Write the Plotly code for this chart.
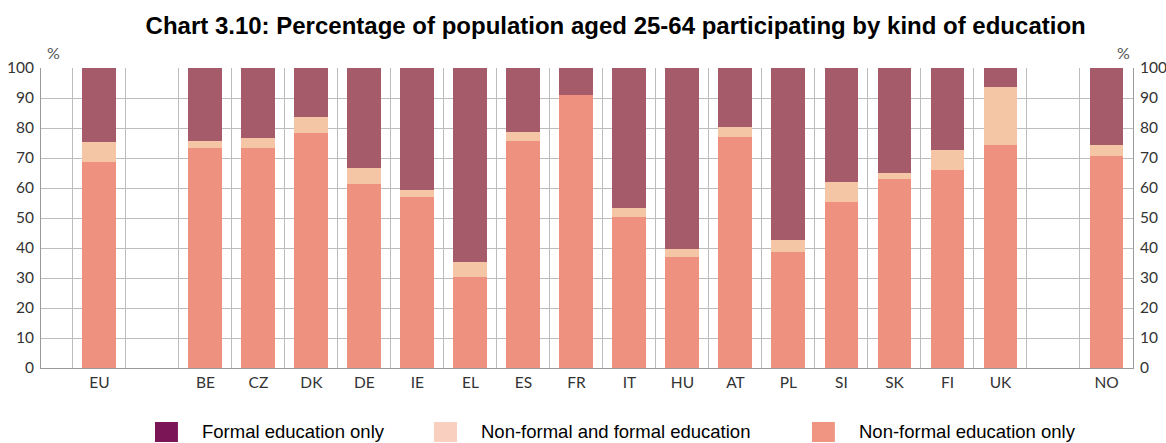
import plotly.graph_objects as go

# Categorias (los huecos son espacios para separar EU y NO)
countries = ["EU", " ", "BE", "CZ", "DK", "DE", "IE", "EL", "ES", "FR", "IT",
             "HU", "AT", "PL", "SI", "SK", "FI", "UK", "  ", "NO"]

# Valores (%)
non_formal_only = [68.8, None, 73.5, 73.3, 78.3, 61.4, 56.9, 30.3, 75.6, 90.9, 50.2,
                   37.0, 77.0, 38.6, 55.4, 62.9, 65.9, 74.3, None, 70.6]
non_formal_and_formal = [6.7, None, 2.3, 3.4, 5.4, 5.3, 2.5, 4.9, 3.0, 0.0, 3.1,
                         2.7, 3.2, 4.0, 6.5, 2.1, 6.7, 19.3, None, 3.8]
formal_only = [24.5, None, 24.2, 23.3, 16.3, 33.3, 40.6, 64.8, 21.4, 9.1, 46.7,
               60.3, 19.8, 57.4, 38.1, 35.0, 27.4, 6.4, None, 25.6]

series_names = ["Formal education only", "Non-formal and formal education",
                "Non-formal education only"]
bar_colors = ["#a65b6b", "#f5c6a6", "#ee917e"]
legend_colors = ["#7b1556", "#f9cfbf", "#ef9581"]

title = "Chart 3.10: Percentage of population aged 25-64 participating by kind of education"
y_ticks = list(range(0, 101, 10))

TICK_FONT = dict(family="Lato", size=15.5, color="#333333")

fig = go.Figure()
# orden de apilado: abajo non-formal only, luego ambos, arriba formal only
for name, vals, col in [
    (series_names[2], non_formal_only, bar_colors[2]),
    (series_names[1], non_formal_and_formal, bar_colors[1]),
    (series_names[0], formal_only, bar_colors[0]),
]:
    fig.add_trace(go.Bar(
        x=countries, y=vals, name=name, marker_color=col,
        marker_line_width=0, showlegend=False,
    ))

fig.update_layout(
    barmode="stack", bargap=0.36,
    width=1166, height=443,
    margin=dict(l=41, r=33, t=68, b=75),
    paper_bgcolor="white", plot_bgcolor="white",
    font=TICK_FONT,
    title=dict(text=f"<b>{title}</b>", x=0.528, xanchor="center", y=0.943, yanchor="middle",
               automargin=False,
               font=dict(family="Liberation Sans", size=24, color="black")),
)
fig.update_xaxes(
    type="category", categoryorder="array", categoryarray=countries,
    tickson="boundaries", showgrid=True, gridcolor="#bdbdbd", gridwidth=1,
    showline=True, linecolor="#9a9a9a", ticks="", automargin=False,
    tickfont=TICK_FONT,
)
fig.update_yaxes(
    range=[0, 100], tickvals=y_ticks, showgrid=True, gridcolor="#bdbdbd",
    showline=True, linecolor="#9a9a9a", ticks="", ticklabelstandoff=3,
    tickfont=TICK_FONT, zeroline=False, automargin=False,
)
fig.update_layout(yaxis2=dict(
    overlaying="y", side="right", range=[0, 100], tickvals=y_ticks,
    showgrid=False, showline=True, linecolor="#9a9a9a", ticks="", zeroline=False,
    ticklabelstandoff=3, automargin=False, tickfont=TICK_FONT,
))
fig.add_trace(go.Scatter(x=[countries[0]], y=[None], yaxis="y2", showlegend=False,
                         hoverinfo="skip"))

# Simbolo % encima de cada eje
for xp in [0.011, 0.991]:
    fig.add_annotation(text="%", xref="paper", yref="paper", x=xp, y=1.05,
                       xanchor="center", yanchor="middle", showarrow=False,
                       font=dict(family="Lato", size=16, color="#555555"))

# Leyenda manual en la parte inferior
legend_x = [0.1044, 0.3599, 0.706]
for name, col, lx in zip(series_names, legend_colors, legend_x):
    fig.add_shape(type="rect", xref="paper", yref="paper",
                  x0=lx, x1=lx + 0.021, y0=-0.2467, y1=-0.18,
                  fillcolor=col, line_width=0)
    fig.add_annotation(text=name, xref="paper", yref="paper", x=lx + 0.0412, y=-0.2133,
                       xanchor="left", yanchor="middle", showarrow=False,
                       font=dict(family="Liberation Sans", size=18.5, color="black"))

# sin margen del body para que el grafico ocupe exactamente la ventana
fig.write_html("out.html", config={"displayModeBar": False},
               post_script="document.body.style.margin='0';")
